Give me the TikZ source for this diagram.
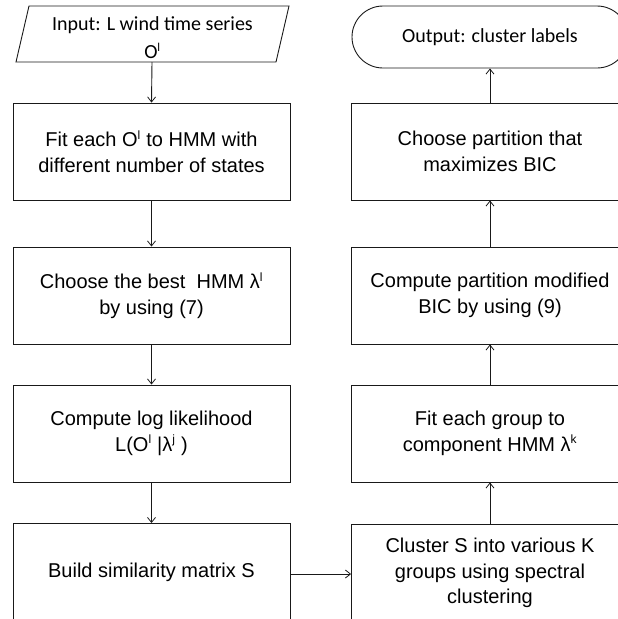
\documentclass[tikz,border=0pt]{standalone}
\usepackage{fontspec}
\setmainfont{Liberation Sans}
\newfontfamily\calibrifont{Carlito}
\usetikzlibrary{arrows.meta,shapes.misc}

% small raised index letters
\newcommand\idx[1]{\textsuperscript{\fontsize{12}{12}\selectfont #1}}

\tikzset{
  flowline/.style={line width=0.9pt, draw=black!90},
  flowarrow/.style={flowline, -{Straight Barb[length=5pt,width=8pt,line width=0.8pt]}},
  stepbox/.style={flowline, fill=white, rectangle, minimum width=277pt, minimum height=97pt,
    align=center, inner sep=0pt, font=\fontsize{20}{25.5}\selectfont},
  iotext/.style={align=center, inner sep=0pt, font=\calibrifont\fontsize{20}{28}\selectfont},
}

\begin{document}
\begin{tikzpicture}[x=1pt, y=-1pt]
  \useasboundingbox (0,0) rectangle (618,619);
  \clip (0,0) rectangle (618,619);

  % left column: input and preparation steps
  \draw[flowline] (29,6) -- (289,6) -- (276,62) -- (16,62) -- cycle;
  \node[iotext] (in) at (152.5,38) {Input: L wind time series\\O\idx{l}};
  \coordinate (inb) at (152,62);

  \node[stepbox] (fit)  at (151.5,151.5) {Fit each O\idx{l} to HMM with\\different number of states};
  \node[stepbox] (best) at (151.5,295.5) {Choose the best\ \ HMM λ\idx{l}\\by using (7)};
  \node[stepbox] (llh)  at (151.5,433.5) {Compute log likelihood\\L(O\idx{l} |λ\idx{j} )};
  \node[stepbox] (sim)  at (151.5,572)   {Build similarity matrix S};

  % right column: clustering and model selection
  \node[flowline, rounded rectangle, minimum width=276pt, minimum height=62pt,
        inner sep=0pt] (out) at (490,37) {};
  \node[iotext] at (out.center) {Output: cluster labels};

  \node[stepbox] (choose) at (490,151.5) {Choose partition that\\maximizes BIC};
  \node[stepbox] (bic)    at (490,295.5) {Compute partition modified\\BIC by using (9)};
  \node[stepbox] (grp)    at (490,433.5) {Fit each group to\\component HMM λ\idx{k}};
  \node[stepbox] (clu)    at (490,573)   {Cluster S into various K\\groups using spectral\\clustering};

  % connectors
  \draw[flowarrow] (inb) -- (fit.north);
  \draw[flowarrow] (fit) -- (best);
  \draw[flowarrow] (best) -- (llh);
  \draw[flowarrow] (llh) -- (sim);
  \draw[flowarrow] (sim.east |- 0,574) -- (clu.west |- 0,574);
  \draw[flowarrow] (clu) -- (grp);
  \draw[flowarrow] (grp) -- (bic);
  \draw[flowarrow] (bic) -- (choose);
  \draw[flowarrow] (choose) -- (out);
\end{tikzpicture}
\end{document}
